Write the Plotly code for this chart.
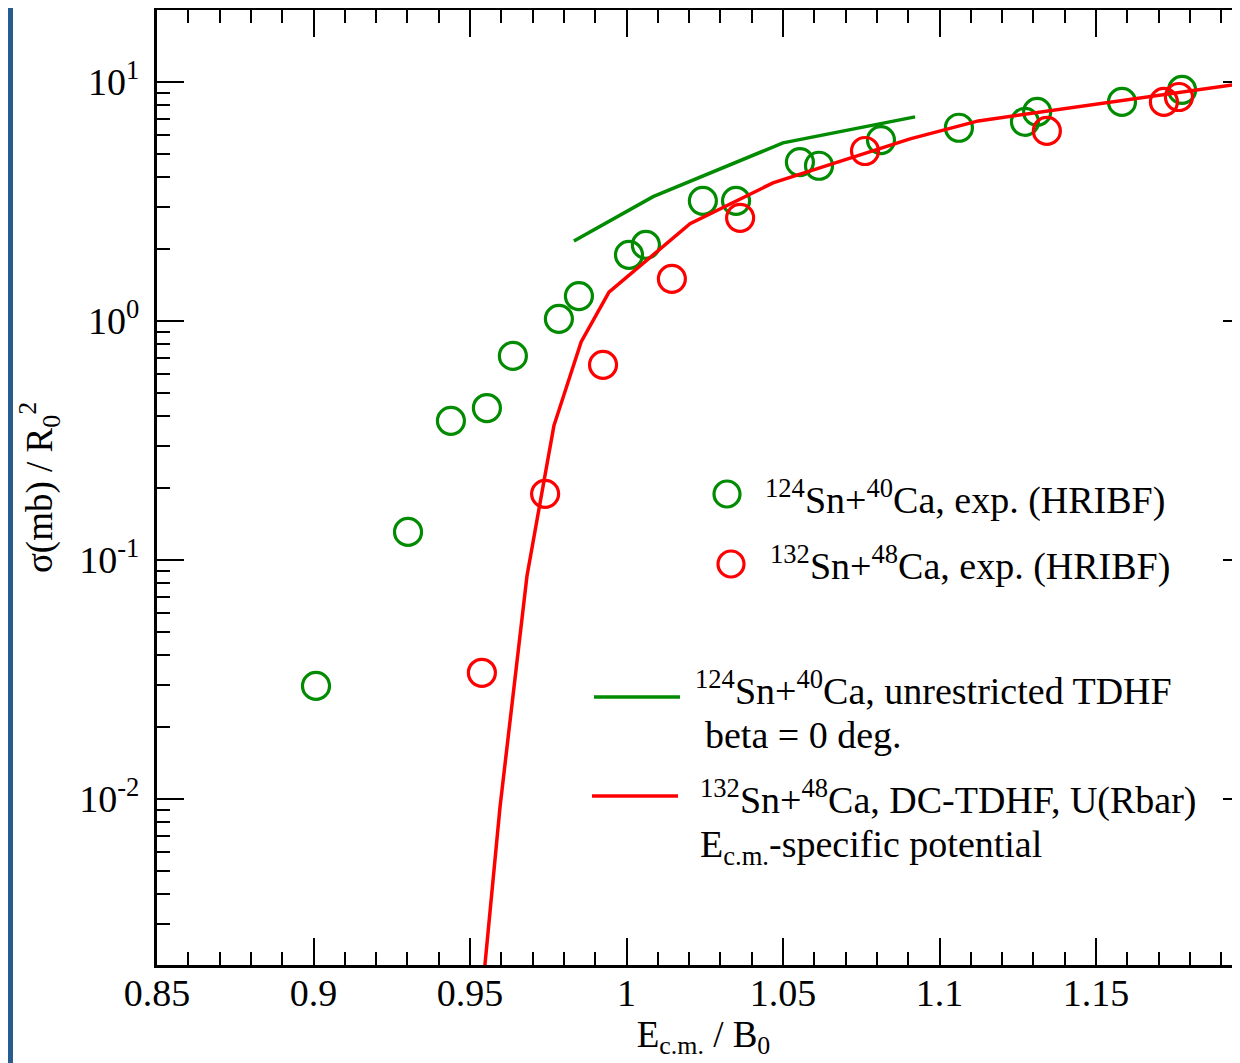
import plotly.graph_objects as go

# ---------------- data ----------------
green_x = [0.9008, 0.9302, 0.9439, 0.9554, 0.9637, 0.9784, 0.9848, 1.0008, 1.0062, 1.0244,
           1.0350, 1.0554, 1.0615, 1.0813, 1.1062, 1.1273, 1.1312, 1.1583, 1.1775]
green_y = [0.0297, 0.131, 0.382, 0.432, 0.714, 1.02, 1.27, 1.89, 2.08, 3.18,
           3.18, 4.62, 4.46, 5.71, 6.43, 6.81, 7.49, 8.25, 9.26]

red_x = [0.9538, 0.9740, 0.9925, 1.0145, 1.0363, 1.0762, 1.1343, 1.1717, 1.1765]
red_y = [0.0337, 0.189, 0.655, 1.50, 2.70, 5.14, 6.24, 8.25, 8.65]

tdhf_x = [0.9832, 1.0085, 1.0500, 1.0922]
tdhf_y = [2.16, 3.31, 5.56, 7.14]

dc_x = [0.9537, 0.9596, 0.9682, 0.9768, 0.9855, 0.9944, 1.0203, 1.0468, 1.0906, 1.1124, 1.1960, 1.2000]
dc_y = [0.00144, 0.00927, 0.0857, 0.364, 0.817, 1.32, 2.55, 3.78, 5.78, 6.87, 9.81, 9.90]

x_tickvals = [0.85, 0.9, 0.95, 1.0, 1.05, 1.1, 1.15]
x_ticktext = ["0.85", "0.9", "0.95", "1", "1.05", "1.1", "1.15"]
y_tickvals = [0.01, 0.1, 1, 10]
y_ticktext = ["10<sup>-2</sup>", "10<sup>-1</sup>", "10<sup>0</sup>", "10<sup>1</sup>"]

GREEN = "#008b00"
RED = "#ff0000"
BLUE = "#265c8f"
FONT = "Liberation Serif"

# page body has an 8px margin: figure coords = window coords - 8
OFF = 8
W, H = 1242, 1055
ML, MR, MT, MB = 149, 0, 2, 98
PW, PH = W - ML - MR, H - MT - MB


def px(wx):
    return (wx - OFF - ML) / PW


def py(wy):
    return (H - MB - (wy - OFF)) / PH


fig = go.Figure()
fig.add_trace(go.Scatter(x=green_x, y=green_y, mode="markers",
                         marker=dict(symbol="circle-open", size=27, color=GREEN, line=dict(width=3.2, color=GREEN)),
                         showlegend=False))
fig.add_trace(go.Scatter(x=red_x, y=red_y, mode="markers",
                         marker=dict(symbol="circle-open", size=27, color=RED, line=dict(width=3.2, color=RED)),
                         showlegend=False))
fig.add_trace(go.Scatter(x=tdhf_x, y=tdhf_y, mode="lines", line=dict(color=GREEN, width=3.5),
                         showlegend=False))
fig.add_trace(go.Scatter(x=dc_x, y=dc_y, mode="lines", line=dict(color=RED, width=3.5),
                         showlegend=False))

minor_y = [m * 10 ** k for k in range(-3, 2) for m in range(2, 10)]

fig.update_xaxes(range=[0.85, 0.85 + PW / 3130.0], tickmode="array", tickvals=x_tickvals, ticktext=x_ticktext,
                 ticks="inside", ticklen=27, tickwidth=2, tickcolor="black",
                 showline=True, linewidth=3, linecolor="black", mirror="ticks",
                 showgrid=False, zeroline=False, ticklabelstandoff=-8,
                 minor=dict(ticks="inside", ticklen=13, tickwidth=2, tickcolor="black", dtick=0.01, tick0=0.85, showgrid=False),
                 tickfont=dict(family=FONT, size=38, color="black"),
                 title=dict(text="E<sub>c.m.</sub> / B<sub>0</sub>", font=dict(family=FONT, size=37, color="black"), standoff=0))
fig.update_yaxes(type="log", range=[-2.695, 1.301], tickmode="array", tickvals=y_tickvals, ticktext=y_ticktext,
                 ticks="inside", ticklen=27, tickwidth=2, tickcolor="black",
                 showline=True, linewidth=3, linecolor="black", mirror="ticks",
                 showgrid=False, zeroline=False, ticklabelstandoff=7,
                 minor=dict(ticks="inside", ticklen=13, tickwidth=2, tickcolor="black", tickmode="array", tickvals=minor_y, showgrid=False),
                 tickfont=dict(family=FONT, size=38, color="black"),
                 title=dict(text="σ(mb) / R<sub>0</sub><sup>2</sup>", font=dict(family=FONT, size=37, color="black"), standoff=16))

shapes = [
    # blue frame (left band)
    dict(type="rect", xref="paper", yref="paper", x0=px(OFF), x1=px(13), y0=py(H + OFF), y1=py(OFF),
         fillcolor=BLUE, line=dict(width=0), layer="above"),
    # legend glyphs
    dict(type="circle", xref="paper", yref="paper", x0=px(727 - 13), x1=px(727 + 13), y0=py(494 + 13), y1=py(494 - 13),
         line=dict(color=GREEN, width=3.2)),
    dict(type="circle", xref="paper", yref="paper", x0=px(731 - 13), x1=px(731 + 13), y0=py(564 + 13), y1=py(564 - 13),
         line=dict(color=RED, width=3.2)),
    dict(type="line", xref="paper", yref="paper", x0=px(594), x1=px(680), y0=py(697), y1=py(697),
         line=dict(color=GREEN, width=3.5)),
    dict(type="line", xref="paper", yref="paper", x0=px(592), x1=px(678), y0=py(796), y1=py(796),
         line=dict(color=RED, width=3.5)),
]

tf = dict(family=FONT, size=38, color="black")
ann = [
    dict(text="<sup>124</sup>Sn+<sup>40</sup>Ca, exp. (HRIBF)", x=px(763), y=py(497)),
    dict(text="<sup>132</sup>Sn+<sup>48</sup>Ca, exp. (HRIBF)", x=px(768), y=py(563)),
    dict(text="<sup>124</sup>Sn+<sup>40</sup>Ca, unrestricted TDHF", x=px(693), y=py(688)),
    dict(text="beta = 0 deg.", x=px(703), y=py(735)),
    dict(text="<sup>132</sup>Sn+<sup>48</sup>Ca, DC-TDHF, U(Rbar)", x=px(698), y=py(798)),
    dict(text="E<sub>c.m.</sub>-specific potential", x=px(698), y=py(847)),
]
annotations = [dict(xref="paper", yref="paper", xanchor="left", yanchor="middle", showarrow=False,
                    font=tf, **a) for a in ann]

fig.update_layout(width=W, height=H, margin=dict(l=ML, r=MR, t=MT, b=MB, autoexpand=False),
                  paper_bgcolor="white", plot_bgcolor="white",
                  shapes=shapes, annotations=annotations, showlegend=False,
                  font=dict(family=FONT, color="black"))

fig.write_html("out.html")
